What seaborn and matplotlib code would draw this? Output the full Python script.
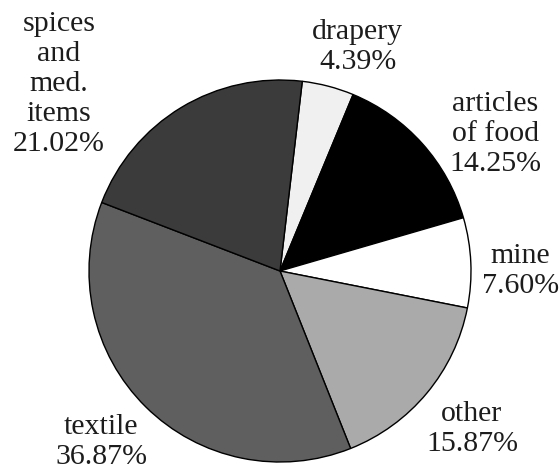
import matplotlib
matplotlib.use("Agg")
import matplotlib.pyplot as plt
import seaborn as sns

# ---- data ----
categories = ["drapery", "articles\nof food", "mine", "other", "textile", "spices\nand\nmed.\nitems"]
shares = [4.39, 14.25, 7.60, 15.87, 36.87, 21.02]
pct_labels = ["4.39%", "14.25%", "7.60%", "15.87%", "36.87%", "21.02%"]

# ---- styling / layout (not data) ----
slice_colors = ["#f0f0f0", "#000000", "#ffffff", "#aaaaaa", "#5f5f5f", "#3b3b3b"]
label_pos = [(0.408, 1.175), (1.126, 0.717), (1.257, 0.0),
             (1.005, -0.825), (-0.937, -0.895), (-1.157, 0.980)]

sns.set_theme(style="white")
plt.rcParams["font.family"] = ["Liberation Serif", "DejaVu Serif"]

fig = plt.figure(figsize=(5.6, 4.71), dpi=100)
ax = fig.add_axes([0, 0, 1, 1])

ax.pie(shares, colors=slice_colors, startangle=83.3, counterclock=False,
       radius=1.0, wedgeprops=dict(edgecolor="black", linewidth=1.0))

for cat, pct, (x, y) in zip(categories, pct_labels, label_pos):
    ax.text(x, y, f"{cat}\n{pct}", ha="center", va="center", fontsize=21.5,
            color="#1c1c1c", linespacing=1.2, multialignment="center")

ax.set_xlim(-280 / 191, 280 / 191)
ax.set_ylim(-200 / 191, 271 / 191)
ax.set_aspect("auto")
ax.axis("off")

fig.savefig("out.png", dpi=100)
